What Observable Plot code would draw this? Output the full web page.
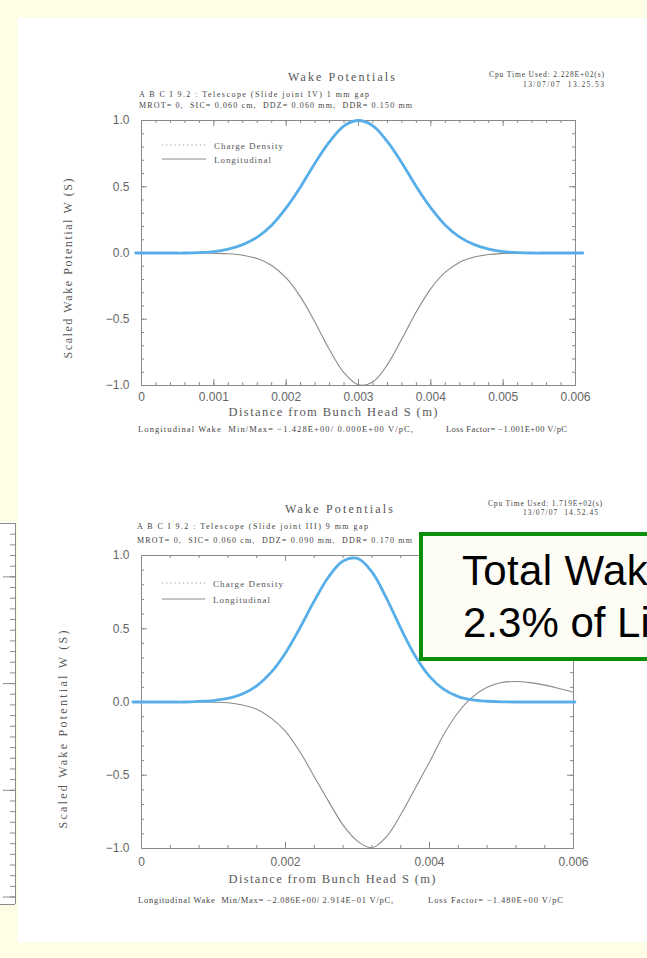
<!DOCTYPE html>
<html>
<head>
<meta charset="utf-8">
<script src="https://cdn.jsdelivr.net/npm/d3@7"></script>
<script src="https://cdn.jsdelivr.net/npm/@observablehq/plot@0.6"></script>
<style>
html,body{margin:0;padding:0;}
body{width:647px;height:958px;overflow:hidden;background:#fffde6;position:relative;font-family:"Liberation Sans",Arial,sans-serif;}
#panel{position:absolute;left:18px;top:18px;width:629px;height:924px;background:#ffffff;}
.chart{position:absolute;}
#overlay{position:absolute;left:0;top:0;pointer-events:none;}
</style>
</head>
<body>
<div id="panel"></div>
<div id="side" class="chart" style="left:0px;top:522px"></div>
<div id="c1" class="chart" style="left:60px;top:100px"></div>
<div id="c2" class="chart" style="left:60px;top:535px"></div>
<svg id="overlay" width="647" height="958"></svg>
<script>
// ---------------- data ----------------
const sPos = [0, 0.0002, 0.0004, 0.0006, 0.0008, 0.001, 0.0012, 0.0014, 0.0016, 0.0018,
  0.002, 0.0022, 0.0024, 0.0026, 0.0028, 0.003, 0.0032, 0.0034, 0.0036, 0.0038,
  0.004, 0.0042, 0.0044, 0.0046, 0.0048, 0.005, 0.0052, 0.0054, 0.0056, 0.0058, 0.006];

// Chart 1: Slide joint IV, 1 mm gap
const chargeDensity1 = [0, 0, 0, 0, 0.003, 0.01, 0.03, 0.063, 0.12, 0.21,
  0.34, 0.50, 0.68, 0.84, 0.96, 1.0, 0.96, 0.84, 0.68, 0.50,
  0.34, 0.21, 0.12, 0.063, 0.03, 0.01, 0.003, 0, 0, 0, 0];
const longWake1 = [0, 0, 0, 0, 0, -0.002, -0.006, -0.017, -0.042, -0.094,
  -0.188, -0.333, -0.524, -0.730, -0.904, -0.995, -0.971, -0.842, -0.648, -0.443,
  -0.269, -0.145, -0.069, -0.030, -0.011, -0.004, -0.001, 0, 0, 0, 0];
const highlightSpan1 = [-0.00008, 0.0061];

// Chart 2: Slide joint III, 9 mm gap
const chargeDensity2 = [0, 0, 0, 0, 0.004, 0.010, 0.024, 0.054, 0.110, 0.202,
  0.335, 0.505, 0.690, 0.855, 0.962, 0.980, 0.888, 0.711, 0.504, 0.316,
  0.175, 0.086, 0.037, 0.014, 0.005, 0.001, 0, 0, 0, 0, 0];
const longWake2 = [0, 0, 0, 0, 0, -0.001, -0.005, -0.02, -0.05, -0.11,
  -0.20, -0.34, -0.51, -0.68, -0.84, -0.95, -0.995, -0.92, -0.77, -0.59,
  -0.41, -0.22, -0.07, 0.035, 0.10, 0.133, 0.14, 0.132, 0.115, 0.092, 0.067];
const highlightSpan2 = [-0.00012, 0.00602];

const xTicks1 = [0, 0.001, 0.002, 0.003, 0.004, 0.005, 0.006];
const xTickLabels1 = ["0", "0.001", "0.002", "0.003", "0.004", "0.005", "0.006"];
const xTicks2 = [0, 0.002, 0.004, 0.006];
const xTickLabels2 = ["0", "0.002", "0.004", "0.006"];
const yTicks = [1, 0.5, 0, -0.5, -1];
const yTickLabels = ["1.0", "0.5", "0.0", "\u22120.5", "\u22121.0"];

const chartTitle = "Wake Potentials";
const xAxisTitle = "Distance from Bunch Head S (m)";
const yAxisTitle = "Scaled Wake Potential W (S)";
const legendLabels = ["Charge Density", "Longitudinal"];
const runInfo1 = ["A B C I 9.2 : Telescope (Slide joint IV) 1 mm gap",
  "MROT= 0,  SIC= 0.060 cm,  DDZ= 0.060 mm,  DDR= 0.150 mm"];
const cpuInfo1 = ["Cpu Time Used: 2.228E+02(s)", "13/07/07  13.25.53"];
const footer1 = ["Longitudinal Wake  Min/Max= \u22121.428E+00/ 0.000E+00 V/pC,", "Loss Factor= \u22121.001E+00 V/pC"];
const runInfo2 = ["A B C I 9.2 : Telescope (Slide joint III) 9 mm gap",
  "MROT= 0,  SIC= 0.060 cm,  DDZ= 0.090 mm,  DDR= 0.170 mm"];
const cpuInfo2 = ["Cpu Time Used: 1.719E+02(s)", "13/07/07  14.52.45"];
const footer2 = ["Longitudinal Wake  Min/Max= \u22122.086E+00/ 2.914E\u221201 V/pC,", "Loss Factor= \u22121.480E+00 V/pC"];
const calloutLines = ["Total Wake", "2.3% of Li"];

// neighbouring (cropped) chart axis on the left edge
const sideMinor = d3.range(0, 36).map(i => +(i * 0.1).toFixed(1));
const sideMajor = [0.5, 1.5, 2.5, 3.5];

// ---------------- drawing ----------------
const serif = "'Liberation Serif','DejaVu Serif',serif";
const grey = "#8a8a8a";
const yMinor = d3.range(-10, 11).map(i => +(i * 0.1).toFixed(1));

function wakePlot(o) {
  const W = o.width - o.ml - o.mr, H = o.height - o.mt - o.mb;
  const rows = sPos.map((s, i) => ({s, q: o.charge[i], w: o.wake[i]}));
  const hl = [{s: o.span[0], q: 0}, ...rows, {s: o.span[1], q: 0}];
  const svg = Plot.plot({
    width: o.width, height: o.height,
    marginTop: o.mt, marginRight: o.mr, marginBottom: o.mb, marginLeft: o.ml,
    style: {background: "transparent", overflow: "visible",
      fontFamily: "'Liberation Sans', Arial, sans-serif", fontSize: "12px", color: "#666"},
    x: {domain: [o.xTicks[0], o.xTicks[o.xTicks.length - 1]], label: null},
    y: {domain: [-1, 1], label: null},
    marks: [
      Plot.tickX(o.xMinor, {x: d => d, insetTop: H - 3, stroke: grey}),
      Plot.tickX(o.xMinor, {x: d => d, insetBottom: H - 3, stroke: grey}),
      Plot.tickX(o.xTicks, {x: d => d, insetTop: H - 6, stroke: grey}),
      Plot.tickX(o.xTicks, {x: d => d, insetBottom: H - 6, stroke: grey}),
      Plot.tickY(yMinor, {y: d => d, insetRight: W - 3, stroke: grey}),
      Plot.tickY(yMinor, {y: d => d, insetLeft: W - 3, stroke: grey}),
      Plot.tickY(yTicks, {y: d => d, insetRight: W - 6, stroke: grey}),
      Plot.tickY(yTicks, {y: d => d, insetLeft: W - 6, stroke: grey}),
      Plot.frame({stroke: grey, strokeWidth: 1}),
      Plot.axisX(o.xTicks, {anchor: "bottom", tickSize: 0, tickPadding: o.xPad, label: null,
        tickFormat: d => o.xTickLabels[o.xTicks.indexOf(d)], color: "#666", fontSize: 12}),
      Plot.axisY(yTicks, {anchor: "left", tickSize: 0, tickPadding: 12, label: null,
        tickFormat: d => yTickLabels[yTicks.indexOf(d)], color: "#666", fontSize: 12}),
      Plot.line(rows, {x: "s", y: "q", curve: "catmull-rom", stroke: "#9a9a9a", strokeWidth: 1, strokeDasharray: "1.2,3"}),
      Plot.line(rows, {x: "s", y: "w", curve: "catmull-rom", stroke: grey, strokeWidth: 1.1}),
      Plot.line(hl, {x: "s", y: "q", curve: "catmull-rom", stroke: "#58aee9", strokeWidth: 2.8}),
      Plot.text([xAxisTitle], {frameAnchor: "bottom", dx: o.xlDx, dy: o.xlDy, lineAnchor: "bottom", textAnchor: "start",
        text: d => d, fontFamily: serif, fontSize: 12.5, fill: "#5a5a5a"}),
      Plot.text([yAxisTitle], {frameAnchor: "left", dx: o.ylDx, dy: o.ylDy, rotate: -90, lineAnchor: "middle", textAnchor: "start",
        text: d => d, fontFamily: serif, fontSize: 12, fill: "#5a5a5a"})
    ]
  });
  svg.querySelectorAll("text").forEach(t => {
    if (t.textContent === xAxisTitle) { t.setAttribute("textLength", o.xlLen); t.setAttribute("lengthAdjust", "spacing"); }
    if (t.textContent === yAxisTitle) { t.setAttribute("textLength", o.ylLen); t.setAttribute("lengthAdjust", "spacing"); }
  });
  return svg;
}

// chart 1: frame 141..575 x 120..385 (page); x title starts at 228, y title centred ~268
document.getElementById("c1").appendChild(wakePlot({
  width: 540, height: 330, ml: 81, mr: 25, mt: 20, mb: 45,
  charge: chargeDensity1, wake: longWake1, span: highlightSpan1,
  xTicks: xTicks1, xTickLabels: xTickLabels1,
  xMinor: d3.range(0, 31).map(i => +(i * 0.0002).toFixed(4)),
  xPad: 7.2, xlDx: -130, xlDy: 30, xlLen: 209,
  ylDx: -73, ylDy: 105.5, ylLen: 180
}));
// chart 2: frame 141..573 x 555..848 (page); y title 630..828
document.getElementById("c2").appendChild(wakePlot({
  width: 540, height: 360, ml: 81, mr: 27, mt: 20, mb: 47,
  charge: chargeDensity2, wake: longWake2, span: highlightSpan2,
  xTicks: xTicks2, xTickLabels: xTickLabels2,
  xMinor: d3.range(0, 16).map(i => +(i * 0.0004).toFixed(4)),
  xPad: 9.2, xlDx: -129, xlDy: 34, xlLen: 207,
  ylDx: -78, ylDy: 126.5, ylLen: 198
}));

// cropped neighbouring chart on the left edge
document.getElementById("side").appendChild(Plot.plot({
  width: 16, height: 383, marginTop: 1, marginBottom: 1, marginLeft: 0, marginRight: 1,
  style: {background: "#ffffff", overflow: "visible"},
  x: {domain: [0, 1], axis: null},
  y: {domain: [0, 3.57], reverse: true, axis: null},
  marks: [
    Plot.tickY(sideMinor, {y: d => d, insetLeft: 10, stroke: "#8a8a8a"}),
    Plot.tickY(sideMajor, {y: d => d, insetLeft: 3, stroke: "#8a8a8a"}),
    Plot.ruleX([1], {stroke: "#8a8a8a"}),
    Plot.ruleY([0, 3.57], {stroke: "#8a8a8a"})
  ]
}));

// ---------------- annotations ----------------
const ov = d3.select("#overlay");
function addText(t) {
  const e = ov.append("text").attr("x", t.x).attr("y", t.y)
    .attr("font-size", t.size).attr("font-family", t.family || serif)
    .attr("fill", t.fill || "#444").style("white-space", "pre").text(t.text);
  if (t.len) e.attr("textLength", t.len).attr("lengthAdjust", "spacing");
  return e;
}
function legend(x1, x2, tx, yDot, ySolid, lenA, lenB) {
  ov.append("line").attr("x1", x1).attr("x2", x2).attr("y1", yDot).attr("y2", yDot)
    .attr("stroke", "#9a9a9a").attr("stroke-dasharray", "1.2,3");
  ov.append("line").attr("x1", x1).attr("x2", x2).attr("y1", ySolid).attr("y2", ySolid)
    .attr("stroke", "#8a8a8a");
  addText({x: tx, y: yDot + 3.8, text: legendLabels[0], size: 9, len: lenA, fill: "#555"});
  addText({x: tx, y: ySolid + 3.8, text: legendLabels[1], size: 9, len: lenB, fill: "#555"});
}

// chart 1 texts
addText({x: 288, y: 81, text: chartTitle, size: 12, len: 107, fill: "#555"});
addText({x: 139, y: 97, text: runInfo1[0], size: 8, len: 230});
addText({x: 139, y: 108, text: runInfo1[1], size: 8, len: 273});
addText({x: 489, y: 77, text: cpuInfo1[0], size: 7.5, len: 115});
addText({x: 523, y: 87, text: cpuInfo1[1], size: 7.5, len: 81});
addText({x: 138, y: 432, text: footer1[0], size: 8.5, len: 275});
addText({x: 446, y: 432, text: footer1[1], size: 8.5, len: 121});
legend(162, 206, 214, 145, 159, 69, 57);

// chart 2 texts
addText({x: 285, y: 513, text: chartTitle, size: 12, len: 108, fill: "#555"});
addText({x: 137, y: 529, text: runInfo2[0], size: 8, len: 231});
addText({x: 137, y: 543, text: runInfo2[1], size: 8, len: 275});
addText({x: 488, y: 506, text: cpuInfo2[0], size: 7.5, len: 114});
addText({x: 523, y: 515, text: cpuInfo2[1], size: 7.5, len: 75});
addText({x: 138, y: 903, text: footer2[0], size: 8.5, len: 255});
addText({x: 428, y: 903, text: footer2[1], size: 8.5, len: 135});
legend(162, 205, 213, 583, 599, 70, 57);

// green callout box (runs off the right edge of the slide)
ov.append("rect").attr("x", 421).attr("y", 534).attr("width", 300).attr("height", 125)
  .attr("fill", "#fdfdf6").attr("stroke", "#0b8f0b").attr("stroke-width", 4);
const sans = "'Liberation Sans', Arial, sans-serif";
const line1 = addText({x: 462, y: 585, text: calloutLines[0], size: 42, family: sans, fill: "#000"});
addText({x: 463, y: 637, text: calloutLines[1], size: 42, family: sans, fill: "#000"});
// spread the first line a little so that its last visible letter meets the slide edge, as in the original
try {
  const n = line1.node();
  const eStart = n.getStartPositionOfChar(9).x;
  const ls = Math.max(0, (648 - eStart) / 9);
  line1.attr("letter-spacing", ls);
} catch (err) {}
</script>
</body>
</html>
